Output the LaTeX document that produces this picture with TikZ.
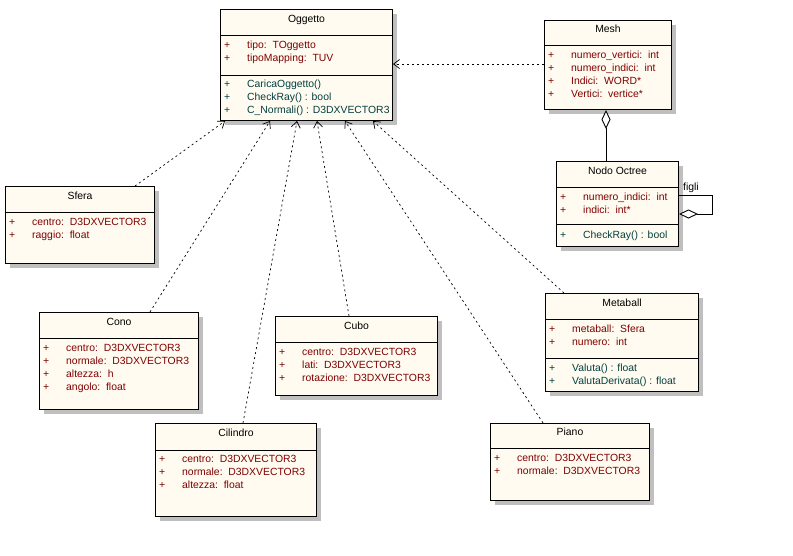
\documentclass[tikz,border=0pt]{standalone}
\usepackage{fontspec}
\setmainfont{Liberation Sans}
\usepackage{tikz}
\usetikzlibrary{arrows.meta}
\usetikzlibrary{shadows}
\newcommand{\pl}{\makebox[23pt][l]{+}}

\begin{document}
\begin{tikzpicture}[x=1pt,y=-1pt,font=\fontsize{10.4}{12}\selectfont]
  \definecolor{boxfill}{RGB}{255,251,240}
  \definecolor{attrcol}{RGB}{128,0,0}
  \definecolor{methcol}{RGB}{0,64,64}
  \tikzstyle{classbox}=[draw=black, line width=1pt, fill=boxfill, anchor=north west, inner sep=0pt,
    drop shadow={shadow xshift=4pt, shadow yshift=-4pt, fill=black!25, opacity=1}]
  \tikzstyle{classname}=[anchor=base, inner sep=0pt]
  \tikzstyle{attr}=[anchor=base west, inner sep=0pt, text=attrcol]
  \tikzstyle{meth}=[attr, text=methcol]
  \tikzstyle{sep}=[black, line width=1pt]
  \tikzstyle{realize}=[-{Straight Barb[length=6pt,width=9pt]}, dash pattern=on 2pt off 3pt, line width=0.7pt]
  \tikzstyle{aggr}=[-{Diamond[fill=white,length=19pt,width=9pt]}, line width=0.9pt]

  \useasboundingbox (0,0) rectangle (793,555);

  % Oggetto
  \node[classbox, minimum width=172pt, minimum height=111pt] (ogg) at (220,9) {};
  \node[classname] (ogg-name) at (ogg.north |- 0,22) {Oggetto};
  \draw[sep] (ogg.west |- 0,35) -- (ogg.east |- 0,35);
  \draw[sep] (ogg.west |- 0,75) -- (ogg.east |- 0,75);
  \foreach \t [count=\i] in {{tipo:~~TOggetto}, {tipoMapping:~~TUV}}
    \node[attr] (ogg-a\i) at (224,{35.5+13*\i}) {\pl\t};
  \foreach \t [count=\i] in {{CaricaOggetto()}, {CheckRay() : bool}, {C\_Normali() : D3DXVECTOR3}}
    \node[meth] (ogg-m\i) at (224,{74.5+13*\i}) {\pl\t};

  % Mesh
  \node[classbox, minimum width=127pt, minimum height=89pt] (mesh) at (544,20) {};
  \node[classname] (mesh-name) at (mesh.north |- 0,32) {Mesh};
  \draw[sep] (mesh.west |- 0,45) -- (mesh.east |- 0,45);
  \foreach \t [count=\i] in {{numero\_vertici:~~int}, {numero\_indici:~~int}, {Indici:~~WORD*}, {Vertici:~~vertice*}}
    \node[attr] (mesh-a\i) at (548,{45+13*\i}) {\pl\t};

  % Nodo Octree
  \node[classbox, minimum width=122pt, minimum height=85pt] (nodo) at (556,161) {};
  \node[classname] (nodo-name) at (nodo.north |- 0,174) {Nodo Octree};
  \draw[sep] (nodo.west |- 0,187) -- (nodo.east |- 0,187);
  \draw[sep] (nodo.west |- 0,224) -- (nodo.east |- 0,224);
  \foreach \t [count=\i] in {{numero\_indici:~~int}, {indici:~~int*}}
    \node[attr] (nodo-a\i) at (560,{187.5+13*\i}) {\pl\t};
  \node[meth] (nodo-m1) at (560,238) {\pl CheckRay() : bool};

  % Sfera
  \node[classbox, minimum width=149pt, minimum height=77pt] (sfera) at (5,186) {};
  \node[classname] (sfera-name) at (sfera.north |- 0,199) {Sfera};
  \draw[sep] (sfera.west |- 0,212) -- (sfera.east |- 0,212);
  \foreach \t [count=\i] in {{centro:~~D3DXVECTOR3}, {raggio:~~float}}
    \node[attr] (sfera-a\i) at (9,{212.5+13*\i}) {\pl\t};

  % Cono
  \node[classbox, minimum width=159pt, minimum height=97pt] (cono) at (39,312) {};
  \node[classname] (cono-name) at (cono.north |- 0,325) {Cono};
  \draw[sep] (cono.west |- 0,338) -- (cono.east |- 0,338);
  \foreach \t [count=\i] in {{centro:~~D3DXVECTOR3}, {normale:~~D3DXVECTOR3}, {altezza:~~h}, {angolo:~~float}}
    \node[attr] (cono-a\i) at (43,{338.5+13*\i}) {\pl\t};

  % Cubo
  \node[classbox, minimum width=162pt, minimum height=79pt] (cubo) at (275,316) {};
  \node[classname] (cubo-name) at (cubo.north |- 0,329) {Cubo};
  \draw[sep] (cubo.west |- 0,342) -- (cubo.east |- 0,342);
  \foreach \t [count=\i] in {{centro:~~D3DXVECTOR3}, {lati:~~D3DXVECTOR3}, {rotazione:~~D3DXVECTOR3}}
    \node[attr] (cubo-a\i) at (279,{342.5+13*\i}) {\pl\t};

  % Metaball
  \node[classbox, minimum width=153pt, minimum height=98pt] (meta) at (545,293) {};
  \node[classname] (meta-name) at (meta.north |- 0,306) {Metaball};
  \draw[sep] (meta.west |- 0,319) -- (meta.east |- 0,319);
  \draw[sep] (meta.west |- 0,358) -- (meta.east |- 0,358);
  \foreach \t [count=\i] in {{metaball:~~Sfera}, {numero:~~int}}
    \node[attr] (meta-a\i) at (549,{319.5+13*\i}) {\pl\t};
  \foreach \t [count=\i] in {{Valuta() : float}, {ValutaDerivata() : float}}
    \node[meth] (meta-m\i) at (549,{358.5+13*\i}) {\pl\t};

  % Cilindro
  \node[classbox, minimum width=161pt, minimum height=93pt] (cil) at (155,423) {};
  \node[classname] (cil-name) at (cil.north |- 0,436) {Cilindro};
  \draw[sep] (cil.west |- 0,450) -- (cil.east |- 0,450);
  \foreach \t [count=\i] in {{centro:~~D3DXVECTOR3}, {normale:~~D3DXVECTOR3}, {altezza:~~float}}
    \node[attr] (cil-a\i) at (159,{449.5+13*\i}) {\pl\t};

  % Piano
  \node[classbox, minimum width=159pt, minimum height=77pt] (piano) at (490,423) {};
  \node[classname] (piano-name) at (piano.north |- 0,435) {Piano};
  \draw[sep] (piano.west |- 0,448) -- (piano.east |- 0,448);
  \foreach \t [count=\i] in {{centro:~~D3DXVECTOR3}, {normale:~~D3DXVECTOR3}}
    \node[attr] (piano-a\i) at (494,{448.5+13*\i}) {\pl\t};

  % Realizations
  \draw[realize] (sfera.north -| 135,0) -- (ogg.south -| 225,0);
  \draw[realize] (cono.north -| 150,0) -- (ogg.south -| 270,0);
  \draw[realize] (cil.north -| 243,0) -- (ogg.south -| 297,0);
  \draw[realize] (cubo.north -| 349,0) -- (ogg.south -| 317,0);
  \draw[realize] (piano.north -| 543,0) -- (ogg.south -| 345,0);
  \draw[realize] (meta.north -| 564,0) -- (ogg.south -| 373,0);
  \draw[realize] (mesh.west |- 0,64) -- (ogg.east |- 0,64);

  % Aggregations
  \draw[aggr] (nodo.north -| 606,0) -- (mesh.south -| 606,0);
  \draw[aggr] (nodo.east |- 0,195) -- ++(33,0) |- (nodo.east |- 0,214);
  \node[anchor=base] (figli) at (691,190) {figli};

\end{tikzpicture}
\end{document}
